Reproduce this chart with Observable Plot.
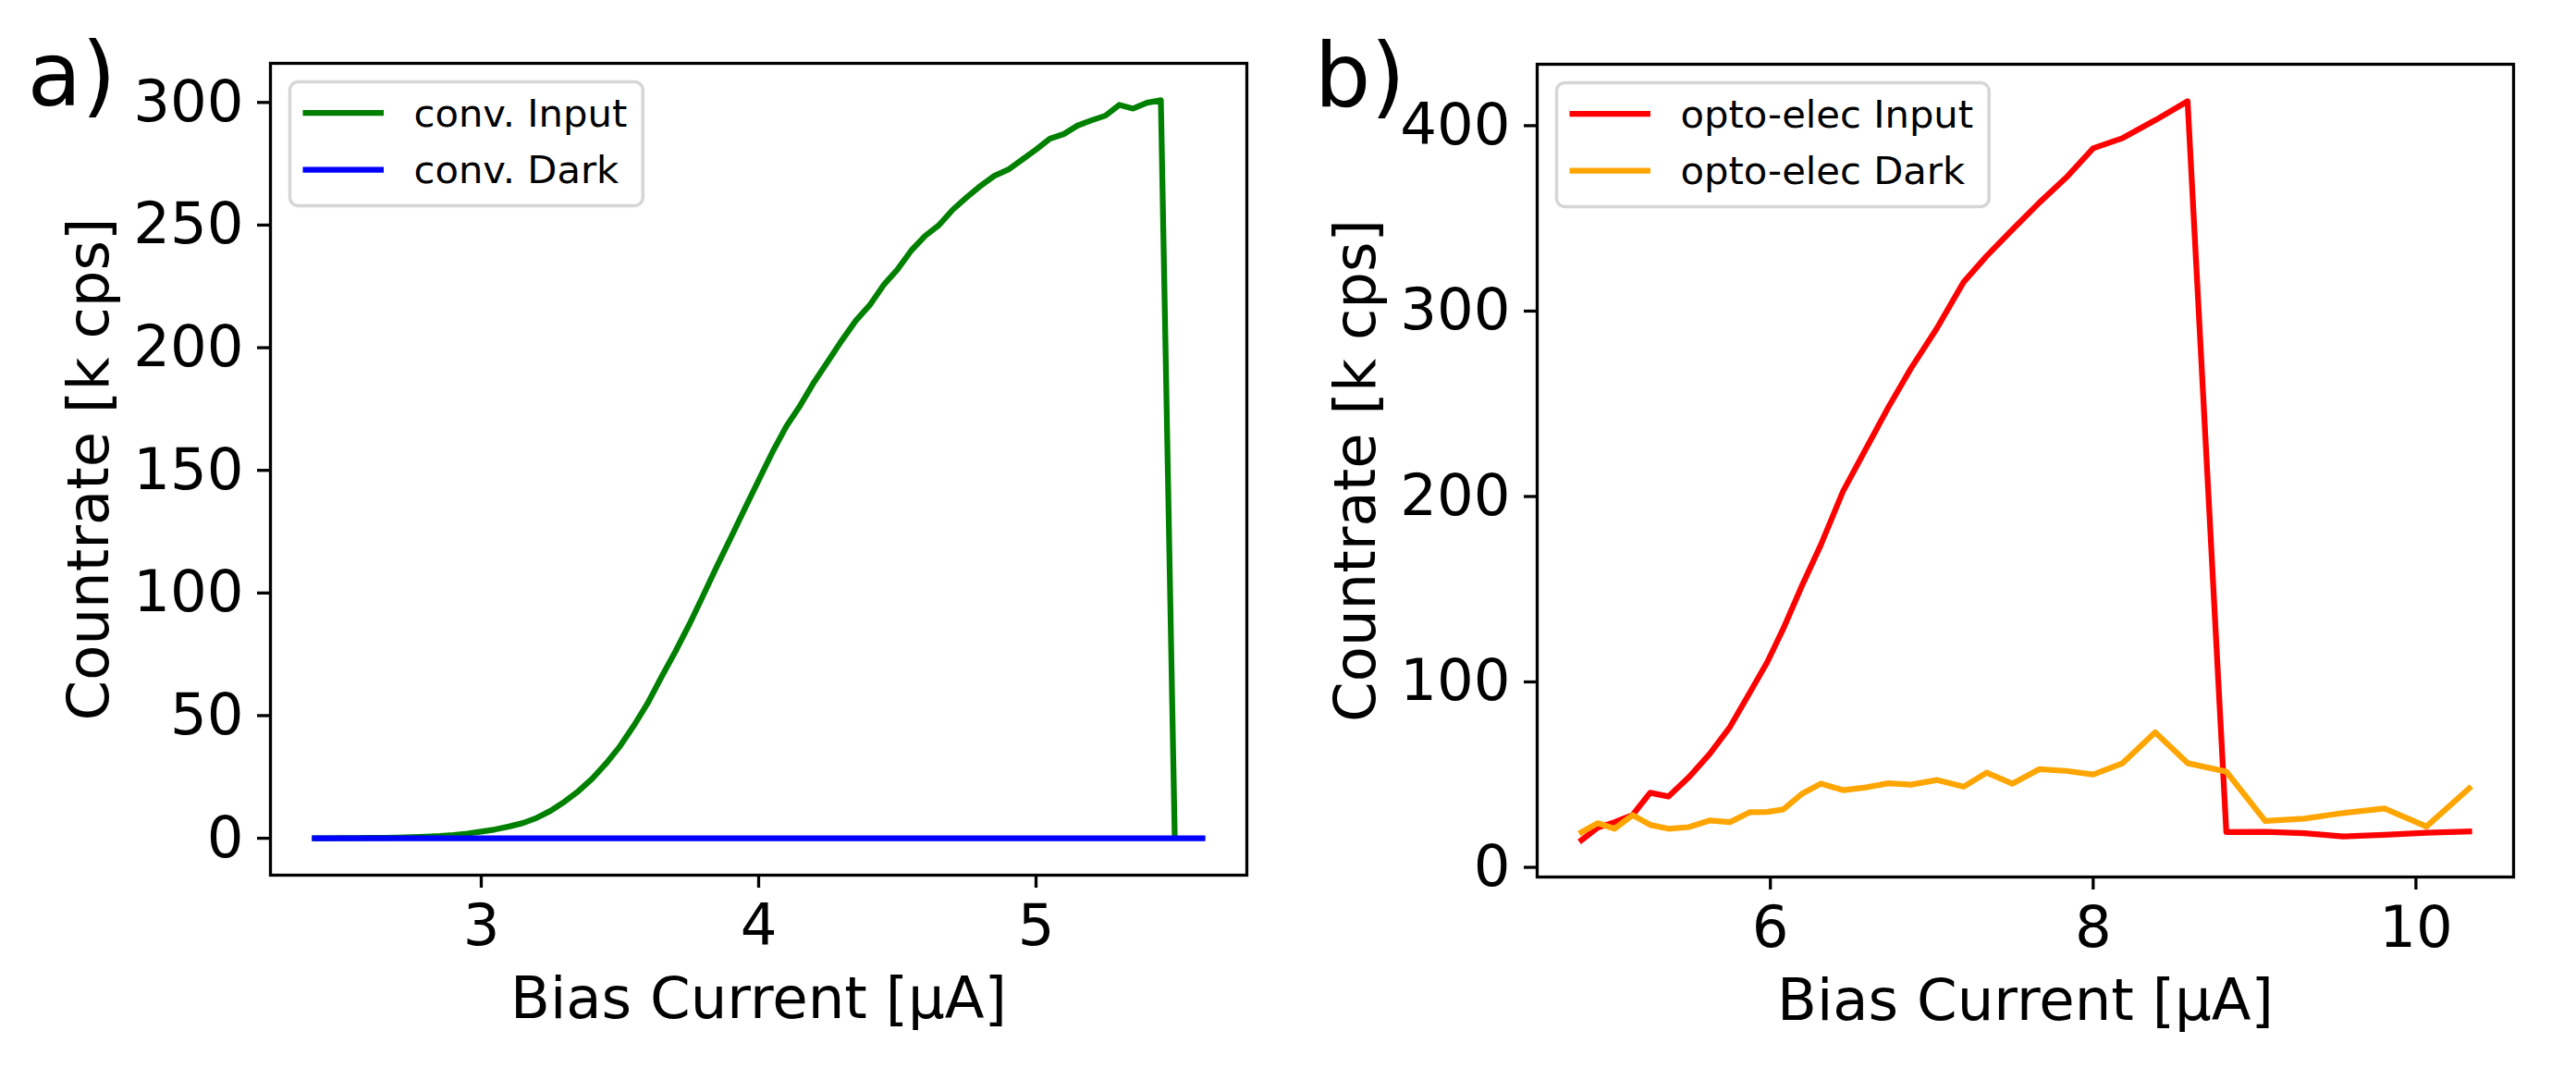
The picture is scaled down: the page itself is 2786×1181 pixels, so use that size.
<!DOCTYPE html>
<html>
<head>
<meta charset="utf-8">
<script src="https://cdn.jsdelivr.net/npm/d3@7"></script>
<script src="https://cdn.jsdelivr.net/npm/@observablehq/plot@0.6"></script>
<style>
html, body { margin: 0; padding: 0; background: #fff; }
#root { position: relative; width: 2786px; height: 1181px; overflow: hidden; font-family: "DejaVu Sans"; background: #fff; }
.panel { position: absolute; top: 0; width: 1393px; height: 1181px; }
.panel svg { position: absolute; left: 0; top: 0; }
</style>
</head>
<body>
<div id="root"></div>
<script>
// ---------- data ----------
const convBias = [2.40,2.45,2.50,2.55,2.60,2.65,2.70,2.75,2.80,2.85,2.90,2.95,3.00,3.05,3.10,3.15,3.20,3.25,3.30,3.35,3.40,3.45,3.50,3.55,3.60,3.65,3.70,3.75,3.80,3.85,3.90,3.95,4.00,4.05,4.10,4.15,4.20,4.25,4.30,4.35,4.40,4.45,4.50,4.55,4.60,4.65,4.70,4.75,4.80,4.85,4.90,4.95,5.00,5.05,5.10,5.15,5.20,5.25,5.30,5.35,5.40,5.45,5.50];
const convInput = [0,0,0.05,0.1,0.15,0.2,0.3,0.45,0.65,0.9,1.3,1.9,2.7,3.6,4.8,6.2,8.3,11.2,14.9,19.2,24.3,30.5,37.5,45.9,55.1,65.8,76.2,87.2,99,111,122.6,134.4,146,157.5,168,176.5,186,194.5,203,211,217.3,225.5,231.8,239.6,245.6,250,256.3,261.3,266,270.1,272.6,276.7,280.8,285.2,287.1,290.6,292.7,294.6,299,297.5,299.9,300.9,0.5];
const convDarkBias = [2.4,2.6,2.8,3.0,3.2,3.4,3.6,3.8,4.0,4.2,4.4,4.6,4.8,5.0,5.2,5.4,5.6];
const convDark = [0,0,0,0,0,0,0,0,0,0,0,0,0,0,0,0,0];

const optoBias = [4.83,4.93,5.035,5.146,5.255,5.368,5.495,5.625,5.75,5.871,5.98,6.08,6.193,6.313,6.45,6.59,6.73,6.87,7.03,7.197,7.34,7.5,7.665,7.833,8.0,8.183,8.384,8.585,8.825,9.066,9.308,9.549,9.805,10.065,10.33];
const optoInput = [14.7,21.4,24.4,28.2,40.2,38.2,48.6,61.3,75.8,94,110.6,128.7,151.4,174,202.8,225.4,248,269,290.5,315.6,329.7,344,358.4,372,387.8,393.3,402.9,413.2,19,19.2,18.4,16.7,17.5,18.7,19.3];
const optoDark = [19,23.8,20.8,28.2,22.9,20.8,21.7,25.3,24.4,29.7,29.9,31.2,39.5,45.1,41.6,43.1,45.3,44.6,47.1,43.5,51.1,45.1,52.9,52,50.1,56.2,72.8,56.2,51.6,25,26.3,29.3,31.7,22,42.6];

const xTicksA = [3, 4, 5];
const yTicksA = [0, 50, 100, 150, 200, 250, 300];
const xTicksB = [6, 8, 10];
const yTicksB = [0, 100, 200, 300, 400];
const xLabel = "Bias Current [μA]";
const yLabel = "Countrate [k cps]";
const panelLetters = ["a)", "b)"];
const legendA = ["conv. Input", "conv. Dark"];
const legendB = ["opto-elec Input", "opto-elec Dark"];
const colorsA = ["green", "blue"];
const colorsB = ["red", "orange"];

// ---------- drawing ----------
const W = 1393, H = 1181;
const FS = 62.5;
const fmt = d => String(d);

function padded(ext) {
  const r = ext[1] - ext[0];
  return [ext[0] - 0.05 * r, ext[1] + 0.05 * r];
}

function makePanel(cfg) {
  const {series, xTicks, yTicks, letter, m, left, letterDx, legend} = cfg;
  const xd = padded(d3.extent(series.flatMap(s => s.x)));
  const yd = padded(d3.extent(series.flatMap(s => s.y)));
  const marks = [
    Plot.axisX({ticks: xTicks, tickFormat: fmt, tickSize: 14, tickPadding: 17, fontSize: FS, strokeWidth: 3.3, label: null}),
    Plot.axisY({ticks: yTicks, tickFormat: fmt, tickSize: 14, tickPadding: 15, fontSize: FS, strokeWidth: 3.3, label: null})
  ];
  for (const s of series) {
    const rows = s.x.map((x, i) => ({x, y: s.y[i]}));
    marks.push(Plot.line(rows, {x: "x", y: "y", stroke: s.color, strokeWidth: 6.25, strokeLinejoin: "round", strokeLinecap: "square"}));
  }
  marks.push(Plot.frame({stroke: "black", strokeWidth: 3.3}));
  marks.push(Plot.text([xLabel], {text: d => d, frameAnchor: "bottom", dy: 154, lineAnchor: "bottom", textAnchor: "middle", fontSize: FS, fill: "black"}));
  marks.push(Plot.text([yLabel], {text: d => d, frameAnchor: "left", dx: 116 - 292, rotate: -90, lineAnchor: "bottom", textAnchor: "middle", fontSize: FS, fill: "black"}));
  marks.push(Plot.text([letter], {text: d => d, frameAnchor: "top-left", dx: letterDx, dy: 45, lineAnchor: "bottom", textAnchor: "start", fontSize: 96, fill: "black"}));

  const chart = Plot.plot({
    width: W, height: H,
    marginLeft: m[0], marginRight: m[1], marginTop: m[2], marginBottom: m[3],
    style: {fontFamily: "DejaVu Sans", background: "transparent", overflow: "visible", color: "black"},
    x: {domain: xd},
    y: {domain: yd},
    marks
  });

  const div = document.createElement("div");
  div.className = "panel";
  div.style.left = left + "px";
  div.appendChild(chart);
  document.getElementById("root").appendChild(div);

  // legend overlay (matplotlib-style)
  const lg = d3.create("svg").attr("width", W).attr("height", H).style("pointer-events", "none");
  div.appendChild(lg.node());
  const bx = m[0] + 21.5, by = m[2] + 20.5;
  const box = lg.append("rect").attr("x", bx).attr("y", by).attr("rx", 9).attr("ry", 9)
    .attr("height", 134).attr("fill", "white").attr("fill-opacity", 0.8)
    .attr("stroke", "#cccccc").attr("stroke-opacity", 0.8).attr("stroke-width", 3.5);
  let maxW = 0;
  legend.forEach((name, i) => {
    const cy = by + 33.5 + i * 61.5;
    lg.append("line").attr("x1", bx + 14).attr("x2", bx + 101.5).attr("y1", cy).attr("y2", cy)
      .attr("stroke", series[i].color).attr("stroke-width", 6.25);
    const t = lg.append("text").attr("x", bx + 134).attr("y", cy + 14.5)
      .attr("font-family", "DejaVu Sans").attr("font-size", 41.7).attr("fill", "black").text(name);
    maxW = Math.max(maxW, t.node().getComputedTextLength());
  });
  box.attr("width", 134 + maxW + 17);
}

makePanel({
  series: [
    {x: convBias, y: convInput, color: colorsA[0]},
    {x: convDarkBias, y: convDark, color: colorsA[1]}
  ],
  xTicks: xTicksA, yTicks: yTicksA, letter: panelLetters[0],
  m: [292, 45, 68, 235], left: 0, letterDx: -263, legend: legendA
});

makePanel({
  series: [
    {x: optoBias, y: optoInput, color: colorsB[0]},
    {x: optoBias, y: optoDark, color: colorsB[1]}
  ],
  xTicks: xTicksB, yTicks: yTicksB, letter: panelLetters[1],
  m: [269, 68, 69, 233], left: 1393, letterDx: -241, legend: legendB
});
</script>
</body>
</html>
